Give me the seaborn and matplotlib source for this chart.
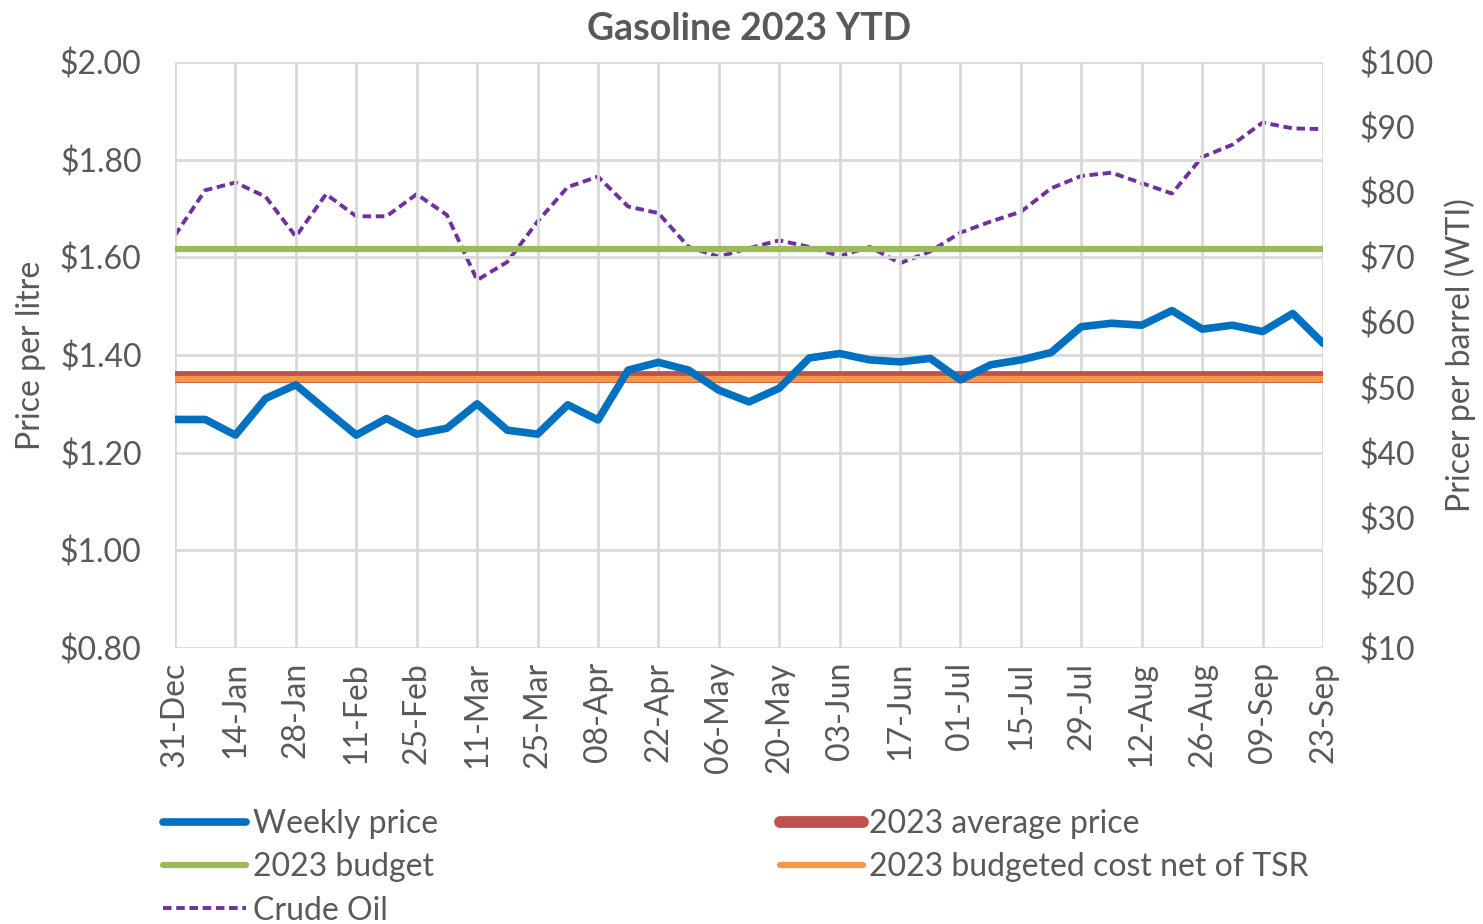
import numpy as np
import pandas as pd
import matplotlib
matplotlib.use("Agg")
import matplotlib.pyplot as plt
import seaborn as sns

# weekly dates (Saturday), 31-Dec-2022 to 23-Sep-2023
weeks = ["31-Dec", "07-Jan", "14-Jan", "21-Jan", "28-Jan", "04-Feb", "11-Feb", "18-Feb",
         "25-Feb", "04-Mar", "11-Mar", "18-Mar", "25-Mar", "01-Apr", "08-Apr", "15-Apr",
         "22-Apr", "29-Apr", "06-May", "13-May", "20-May", "27-May", "03-Jun", "10-Jun",
         "17-Jun", "24-Jun", "01-Jul", "08-Jul", "15-Jul", "22-Jul", "29-Jul", "05-Aug",
         "12-Aug", "19-Aug", "26-Aug", "02-Sep", "09-Sep", "16-Sep", "23-Sep"]

weekly_price = [1.268, 1.268, 1.236, 1.311, 1.339, 1.287, 1.236, 1.270, 1.238, 1.250,
                1.300, 1.246, 1.238, 1.298, 1.267, 1.369, 1.385, 1.369, 1.328, 1.304,
                1.332, 1.394, 1.403, 1.390, 1.386, 1.393, 1.349, 1.380, 1.390, 1.405,
                1.458, 1.465, 1.461, 1.491, 1.453, 1.461, 1.448, 1.485, 1.424]

crude_oil = [73.4, 80.3, 81.5, 79.3, 73.2, 79.7, 76.3, 76.3, 79.7, 76.5,
             66.5, 69.3, 75.5, 80.8, 82.4, 77.8, 76.8, 71.6, 70.1, 71.4,
             72.6, 71.6, 70.2, 71.6, 69.1, 70.9, 73.8, 75.5, 77.0, 80.6,
             82.5, 83.0, 81.4, 79.8, 85.4, 87.3, 90.7, 89.8, 89.7]

avg_price = 1.355
budget = 1.617
budget_net_tsr = 1.350

df = pd.DataFrame({
    "week": np.arange(len(weeks)),
    "weekly": weekly_price,
    "crude": crude_oil,
    "avg": avg_price,
    "budget": budget,
    "tsr": budget_net_tsr,
})

sns.set_theme(style="white")
plt.rcParams["font.family"] = ["Lato", "DejaVu Sans"]
grey = "#595959"
fs = 23

fig = plt.figure(figsize=(14.83, 9.24), dpi=100)
ax = fig.add_axes([175 / 1483, 1 - 648 / 924, (1323 - 175) / 1483, (648 - 62) / 924])
ax2 = ax.twinx()

sns.lineplot(data=df, x="week", y="budget", ax=ax, color="#9BBB59", linewidth=4.5,
             label="2023 budget", zorder=3)
sns.lineplot(data=df, x="week", y="avg", ax=ax, color="#C0504D", linewidth=8.5,
             label="2023 average price", zorder=3)
sns.lineplot(data=df, x="week", y="tsr", ax=ax, color="#F79646", linewidth=4.5,
             label="2023 budgeted cost net of TSR", zorder=4)
sns.lineplot(data=df, x="week", y="weekly", ax=ax, color="#0070C0", linewidth=5.5,
             label="Weekly price", zorder=5)
sns.lineplot(data=df, x="week", y="crude", ax=ax2, color="#7030A0", linewidth=2.8,
             linestyle=(0, (2.2, 1.2)), label="Crude Oil", zorder=6)

ax.set_zorder(ax2.get_zorder() + 1)
ax.patch.set_visible(False)

# axes ranges and ticks
ax.set_xlim(0, len(weeks) - 1)
ax.set_ylim(0.8, 2.0)
ax2.set_ylim(10, 100)
ax.set_xticks(df["week"][::2])
ax.set_xticklabels(weeks[::2], rotation=90)
ax.set_yticks(np.arange(0.8, 2.01, 0.2))
ax.set_yticklabels([f"${v:.2f}" for v in np.arange(0.8, 2.01, 0.2)])
ax2.set_yticks(np.arange(10, 101, 10))
ax2.set_yticklabels([f"${v}" for v in range(10, 101, 10)])

ax.grid(True, color="#d9d9d9", linewidth=2)
ax2.grid(False)
for a in (ax, ax2):
    for s in a.spines.values():
        s.set_visible(False)
    a.tick_params(length=0, labelsize=fs, colors=grey)
ax.tick_params(axis="y", pad=24)
ax2.tick_params(axis="y", pad=26)
ax.tick_params(axis="x", pad=10)

ax.set_xlabel("")
ax.set_ylabel("Price per litre", fontsize=fs, color=grey, labelpad=10)
ax2.set_ylabel("Pricer per barrel (WTI)", fontsize=fs, color=grey, labelpad=8)
ax.set_title("Gasoline 2023 YTD", fontsize=27, fontweight="bold", color=grey, pad=16)

# legend below the plot, two columns
h1, l1 = ax.get_legend_handles_labels()
h2, l2 = ax2.get_legend_handles_labels()
ax2.get_legend().remove()
hmap = dict(zip(l1 + l2, h1 + h2))
order = ["Weekly price", "2023 budget", "Crude Oil", "2023 average price", "2023 budgeted cost net of TSR"]
ax.legend([hmap[k] for k in order], order, ncol=2, frameon=False, fontsize=fs,
          labelcolor=grey, loc="upper left", bbox_to_anchor=(-0.027, -0.2415),
          handlelength=2.6, handletextpad=0.2, columnspacing=10.7, labelspacing=0.42,
          borderpad=0.1)

fig.savefig("out.png", dpi=100)
